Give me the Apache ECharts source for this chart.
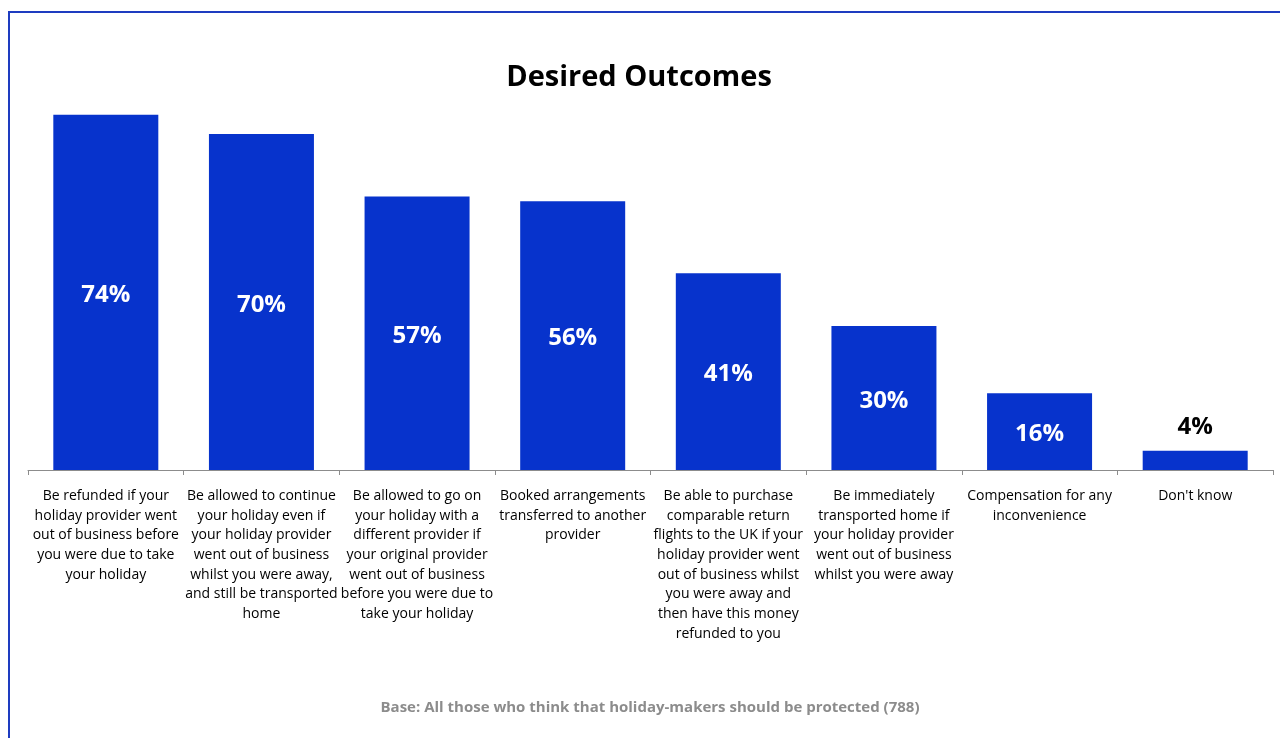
<!DOCTYPE html>
<html>
<head>
<meta charset="utf-8">
<title>Desired Outcomes</title>
<script src="https://cdn.jsdelivr.net/npm/echarts@6/dist/echarts.min.js"></script>
<style>
  html, body { margin: 0; padding: 0; background: #ffffff; }
  #chart { width: 1280px; height: 738px; }
</style>
</head>
<body>
<div id="chart"></div>
<script>
// Outcomes respondents would want, as wrapped category labels
const categories = [
  'Be refunded if your\nholiday provider went\nout of business before\nyou were due to take\nyour holiday',
  'Be allowed to continue\nyour holiday even if\nyour holiday provider\nwent out of business\nwhilst you were away,\nand still be transported\nhome',
  'Be allowed to go on\nyour holiday with a\ndifferent provider if\nyour original provider\nwent out of business\nbefore you were due to\ntake your holiday',
  'Booked arrangements\ntransferred to another\nprovider',
  'Be able to purchase\ncomparable return\nflights to the UK if your\nholiday provider went\nout of business whilst\nyou were away and\nthen have this money\nrefunded to you',
  'Be immediately\ntransported home if\nyour holiday provider\nwent out of business\nwhilst you were away',
  'Compensation for any\ninconvenience',
  "Don't know"
];

// Share of respondents (%)
const values = [74, 70, 57, 56, 41, 30, 16, 4];

const titleText = 'Desired Outcomes';
const baseText = 'Base: All those who think that holiday-makers should be protected (788)';

const FONT = '"Open Sans", "Noto Sans", sans-serif';
const BAR_BLUE = '#0733cc';

// Small bars get their label above the bar in black
const SMALL = 10;
const barData = values.map(v => ({
  value: v,
  label: v < SMALL
    ? { position: 'top', color: '#000000', distance: 12 }
    : { position: 'inside', color: '#ffffff', offset: [0, 3] }
}));

const chart = echarts.init(document.getElementById('chart'), null, { renderer: 'canvas' });

chart.setOption({
  animation: false,
  backgroundColor: '#ffffff',
  title: {
    text: titleText,
    left: 634,
    top: 58,
    textAlign: 'center',
    textStyle: { fontFamily: FONT, fontSize: 29, fontWeight: 'bold', color: '#000000' }
  },
  graphic: [
    {
      type: 'rect',
      shape: { x: 9, y: 12, width: 1300, height: 760 },
      style: { fill: 'none', stroke: '#1e3cc0', lineWidth: 2 },
      silent: true
    },
    {
      type: 'text',
      x: 650,
      y: 708,
      style: {
        text: baseText,
        fill: '#8c8c8c',
        font: 'bold 15px ' + FONT,
        textAlign: 'center',
        textVerticalAlign: 'middle'
      },
      silent: true
    }
  ],
  grid: { left: 28, right: 7, top: 38, bottom: 268, containLabel: false },
  xAxis: {
    type: 'category',
    data: categories,
    boundaryGap: true,
    axisLine: { show: true, lineStyle: { color: '#8c8c8c', width: 1 } },
    axisTick: { show: true, length: 5, alignWithLabel: false, lineStyle: { color: '#8c8c8c' } },
    axisLabel: {
      interval: 0,
      margin: 16,
      fontFamily: FONT,
      fontSize: 14,
      lineHeight: 19.7,
      color: '#000000',
      align: 'center'
    }
  },
  yAxis: {
    type: 'value',
    min: 0,
    max: 90,
    show: false,
    splitLine: { show: false }
  },
  series: [
    {
      type: 'bar',
      data: barData,
      barWidth: 105,
      itemStyle: { color: BAR_BLUE },
      label: {
        show: true,
        formatter: '{c}%',
        fontFamily: FONT,
        fontSize: 24,
        fontWeight: 'bold'
      }
    }
  ]
});
</script>
</body>
</html>
